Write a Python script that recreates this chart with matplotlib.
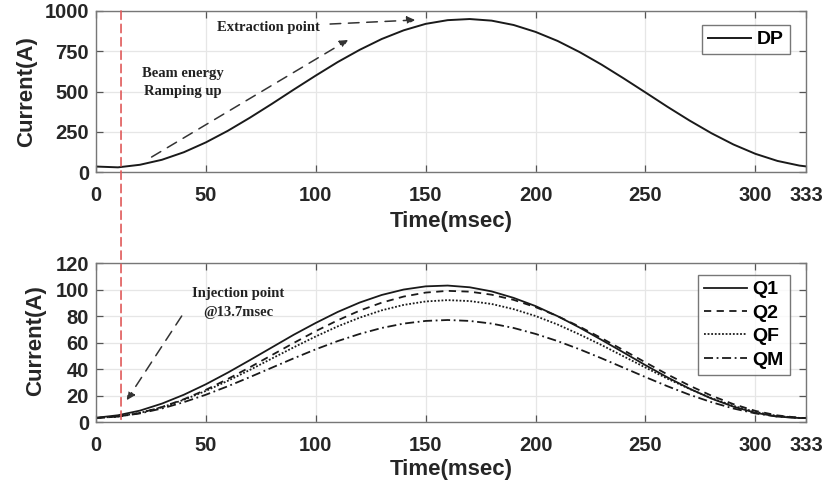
import numpy as np
import matplotlib
matplotlib.use("Agg")
import matplotlib.pyplot as plt
from matplotlib.patches import ConnectionPatch

# time axis (msec) and currents
t = [0, 10, 20, 30, 40, 50, 60, 70, 80, 90, 100, 110, 120, 130, 140, 150, 160,
     170, 180, 190, 200, 210, 220, 230, 240, 250, 260, 270, 280, 290, 300, 310, 320, 323]

dp = [34, 29, 45, 76, 123, 184, 256, 337, 423, 512, 599, 683, 759, 826, 880, 920, 943,
      950, 940, 913, 870, 814, 745, 667, 582, 494, 405, 320, 241, 171, 113, 69, 40, 35]

q1 = [3.2, 5.1, 8.6, 13.9, 20.6, 28.5, 37.3, 46.7, 56.3, 65.9, 74.8, 83.1, 90.2, 95.9, 100.0, 102.4, 103.0,
      101.7, 98.6, 93.7, 87.5, 79.9, 71.3, 62.0, 52.5, 42.9, 33.7, 25.2, 17.7, 11.6, 7.0, 4.1, 3.0, 3.0]
q2 = [3.0, 4.1, 6.8, 11.3, 17.2, 24.3, 32.5, 41.3, 50.5, 59.7, 68.6, 76.8, 84.1, 90.1, 94.7, 97.7, 99.0,
      98.4, 96.1, 92.2, 86.7, 79.9, 72.0, 63.3, 54.2, 45.0, 35.9, 27.5, 19.9, 13.5, 8.4, 5.0, 3.2, 3.0]
qf = [3.0, 4.2, 6.9, 11.1, 16.8, 23.5, 31.1, 39.3, 47.9, 56.4, 64.6, 72.2, 78.8, 84.3, 88.4, 91.0, 92.0,
      91.3, 89.1, 85.2, 80.0, 73.6, 66.1, 58.1, 49.6, 41.1, 32.7, 25.0, 18.0, 12.2, 7.6, 4.6, 3.1, 3.0]
qm = [3.1, 4.1, 6.5, 10.2, 15.0, 20.6, 27.0, 33.9, 41.0, 48.1, 54.9, 61.1, 66.5, 71.0, 74.3, 76.3, 77.0,
      76.3, 74.3, 71.0, 66.5, 61.1, 54.9, 48.1, 41.0, 33.9, 27.0, 20.6, 15.0, 10.2, 6.5, 4.1, 3.1, 3.0]

t_end = 323
t_inj = 11.4
xtick_pos = [0, 50, 100, 150, 200, 250, 300, 323]
xtick_labels = ['0', '50', '100', '150', '200', '250', '300', '333']

sans = 'Liberation Sans'
serif = 'Liberation Serif'
ink = '#1a1a1a'

fig = plt.figure(figsize=(8.23, 4.88), dpi=100)
ax1 = fig.add_axes([0.1166, 0.6475, 0.8627, 0.330])
ax2 = fig.add_axes([0.1166, 0.1352, 0.8627, 0.3258])


def style(ax, yticks):
    ax.set_xlim(0, t_end)
    ax.set_xticks(xtick_pos)
    ax.set_xticklabels(xtick_labels)
    ax.set_yticks(yticks)
    ax.set_ylim(yticks[0], yticks[-1])
    ax.grid(True, color='#e6e6e6', lw=0.9)
    ax.set_axisbelow(True)
    for s in ax.spines.values():
        s.set_color('#777777')
        s.set_linewidth(1.0)
    ax.tick_params(direction='in', length=5, width=0.9, color='#555555',
                   top=True, right=True, labelsize=14.5, labelcolor='#262626')
    ax.tick_params(axis='x', pad=10)
    ax.tick_params(axis='y', pad=5)
    for lab in ax.get_xticklabels() + ax.get_yticklabels():
        lab.set_fontfamily(sans)
        lab.set_fontweight('bold')
    ax.set_xlabel('Time(msec)', fontsize=16, fontweight='bold', family=sans, color='#262626')
    ax.set_ylabel('Current(A)', fontsize=16, fontweight='bold', family=sans, color='#262626')


def boxed_legend(ax, anchor):
    leg = ax.legend(loc='upper right', bbox_to_anchor=anchor, frameon=True, fancybox=False,
                    handlelength=2.2, handletextpad=0.3, borderpad=0.3, borderaxespad=0,
                    labelspacing=0.3, prop={'family': sans, 'weight': 'bold', 'size': 14})
    leg.get_frame().set_edgecolor('#555555')
    leg.get_frame().set_linewidth(1.0)
    return leg


# top panel: dipole
ax1.plot(t, dp, color=ink, lw=1.4, label='DP')
style(ax1, [0, 250, 500, 750, 1000])
ax1.xaxis.set_label_coords(0.5, -0.31)
ax1.xaxis.label.set_va('center')
ax1.yaxis.set_label_coords(-0.097, 0.5)
ax1.yaxis.label.set_va('center')
boxed_legend(ax1, (0.977, 0.913))

ax1.text(78.3, 900, 'Extraction point', family=serif, fontweight='bold', fontsize=10.5,
         ha='center', va='center', color='#222222')
ax1.text(39.6, 553, 'Beam energy\nRamping up', family=serif, fontweight='bold', fontsize=10.5,
         ha='center', va='center', color='#222222', linespacing=1.5)
arrow_kw = dict(arrowstyle='-|>', color='#333333', lw=1.1, linestyle=(0, (7, 5)),
                mutation_scale=12, shrinkA=0, shrinkB=0)
ax1.annotate('', xy=(145.2, 944), xytext=(106.5, 919), arrowprops=arrow_kw)
ax1.annotate('', xy=(114.7, 820), xytext=(25.3, 93), arrowprops=arrow_kw)

# bottom panel: quadrupoles
ax2.plot(t, q1, color=ink, lw=1.3, ls='-', label='Q1')
ax2.plot(t, q2, color=ink, lw=1.3, ls=(0, (4, 3)), label='Q2')
ax2.plot(t, qf, color=ink, lw=1.3, ls=(0, (1, 1)), label='QF')
ax2.plot(t, qm, color=ink, lw=1.3, ls=(0, (5, 2, 1, 2)), label='QM')
style(ax2, [0, 20, 40, 60, 80, 100, 120])
ax2.xaxis.set_label_coords(0.5, -0.30)
ax2.xaxis.label.set_va('center')
ax2.yaxis.set_label_coords(-0.085, 0.51)
ax2.yaxis.label.set_va('center')
boxed_legend(ax2, (0.977, 0.925))

ax2.text(64.6, 89.8, 'Injection point\n@13.7msec', family=serif, fontweight='bold', fontsize=10.5,
         ha='center', va='center', color='#222222', linespacing=1.6)
ax2.annotate('', xy=(14, 16.5), xytext=(39, 80), arrowprops=arrow_kw)

# injection marker running through both panels
con = ConnectionPatch(xyA=(t_inj, 1000), coordsA='data', axesA=ax1,
                      xyB=(t_inj, 0), coordsB='data', axesB=ax2,
                      color='#e05a5a', lw=1.2, linestyle=(0, (5, 3)), zorder=5)
fig.add_artist(con)

fig.savefig('out.png', dpi=100)
